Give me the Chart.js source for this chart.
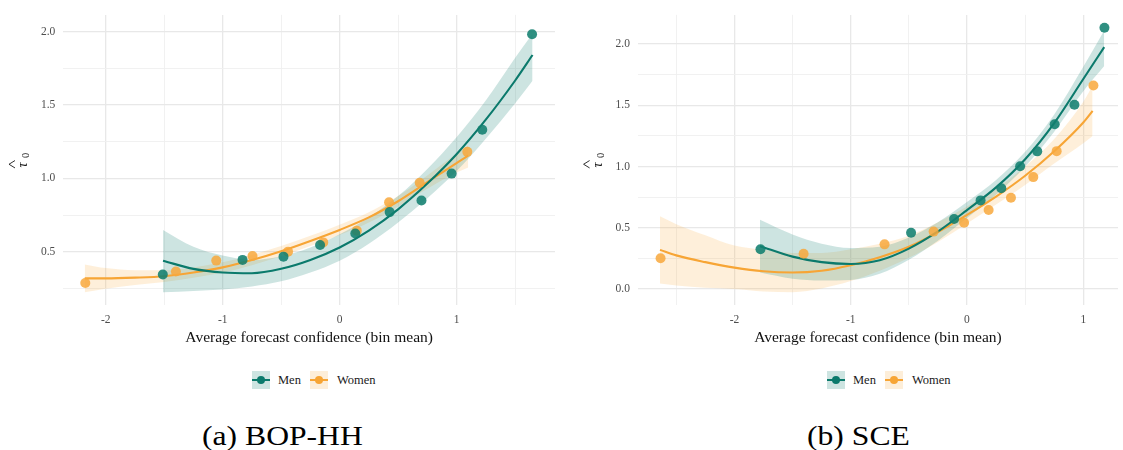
<!DOCTYPE html>
<html>
<head>
<meta charset="utf-8">
<script src="https://cdn.jsdelivr.net/npm/chart.js@4.4.1/dist/chart.umd.min.js"></script>
<style>
  html, body { margin: 0; padding: 0; background: #fff; }
  body { width: 1123px; height: 450px; position: relative; overflow: hidden;
         font-family: "Liberation Serif", "Times New Roman", serif; }
  canvas { position: absolute; top: 0; }
  .key { position: absolute; top: 371px; width: 18px; height: 18px; }
  .key .ln { position: absolute; left: 0; width: 18px; top: 8px; height: 2px; }
  .key .pt { position: absolute; left: 5px; top: 5px; width: 8px; height: 8px; border-radius: 50%; }
  .lab { position: absolute; top: 371px; line-height: 18px; font-size: 12.5px; color: #1a1a1a; }
  .caption { position: absolute; top: 422px; font-size: 28px; line-height: 28px; color: #000;
             transform: scaleX(1.13); transform-origin: left center; white-space: nowrap; }
</style>
</head>
<body>
<canvas id="bop" width="560" height="350" style="left:0;width:560px;height:350px"></canvas>
<canvas id="sce" width="563" height="350" style="left:560px;width:563px;height:350px"></canvas>

<div class="key" style="left:252px;background:#cde4e1"><div class="ln" style="background:#0b7a6c"></div><div class="pt" style="background:#0b7a6c"></div></div>
<div class="lab" style="left:278px">Men</div>
<div class="key" style="left:310px;background:#fdeed9"><div class="ln" style="background:#f7a535"></div><div class="pt" style="background:#f7a535"></div></div>
<div class="lab" style="left:337px">Women</div>

<div class="key" style="left:827px;background:#cde4e1"><div class="ln" style="background:#0b7a6c"></div><div class="pt" style="background:#0b7a6c"></div></div>
<div class="lab" style="left:853px">Men</div>
<div class="key" style="left:885px;background:#fdeed9"><div class="ln" style="background:#f7a535"></div><div class="pt" style="background:#f7a535"></div></div>
<div class="lab" style="left:912px">Women</div>

<div class="caption" style="left:202px">(a) BOP-HH</div>
<div class="caption" style="left:807px">(b) SCE</div>

<script>
// ---- BOP-HH panel ----
const bopMenX   = [-1.512, -0.83, -0.48, -0.167, 0.134, 0.428, 0.70, 0.958, 1.22, 1.646];
const bopMenY   = [0.347, 0.446, 0.468, 0.547, 0.625, 0.771, 0.85, 1.033, 1.331, 1.981];
const bopWomenX = [-2.175, -1.40, -1.055, -0.745, -0.441, -0.14, 0.147, 0.423, 0.685, 1.092];
const bopWomenY = [0.289, 0.367, 0.441, 0.473, 0.502, 0.565, 0.645, 0.838, 0.971, 1.181];

const bopMenFitX  = [-1.51, -1.25, -1.0, -0.75, -0.5, -0.25, 0, 0.25, 0.5, 0.75, 1.0, 1.25, 1.5, 1.65];
const bopMenFit   = [0.44, 0.385, 0.36, 0.355, 0.385, 0.445, 0.53, 0.645, 0.79, 0.965, 1.165, 1.40, 1.665, 1.84];
const bopMenLow   = [0.225, 0.235, 0.245, 0.265, 0.30, 0.36, 0.44, 0.555, 0.70, 0.865, 1.05, 1.27, 1.51, 1.665];
const bopMenHigh  = [0.65, 0.535, 0.475, 0.445, 0.47, 0.53, 0.62, 0.735, 0.88, 1.065, 1.28, 1.53, 1.82, 1.985];

const bopWomenFitX = [-2.18, -2.0, -1.75, -1.5, -1.25, -1.0, -0.75, -0.5, -0.25, 0, 0.25, 0.5, 0.75, 1.0, 1.1];
const bopWomenFit  = [0.32, 0.32, 0.325, 0.335, 0.36, 0.395, 0.445, 0.505, 0.575, 0.65, 0.735, 0.845, 0.975, 1.105, 1.155];
const bopWomenLow  = [0.225, 0.25, 0.275, 0.295, 0.325, 0.36, 0.41, 0.47, 0.54, 0.615, 0.70, 0.81, 0.93, 1.04, 1.075];
const bopWomenHigh = [0.415, 0.39, 0.375, 0.375, 0.395, 0.43, 0.48, 0.54, 0.61, 0.685, 0.77, 0.88, 1.02, 1.17, 1.225];

const bopTicksX = [-2, -1.5, -1, -0.5, 0, 0.5, 1, 1.5];
const bopTicksY = [0.25, 0.5, 0.75, 1.0, 1.25, 1.5, 1.75, 2.0];

// ---- SCE panel ----
const sceMenX   = [-1.776, -0.481, -0.111, 0.117, 0.295, 0.457, 0.604, 0.754, 0.924, 1.182];
const sceMenY   = [0.325, 0.46, 0.572, 0.724, 0.823, 1.003, 1.124, 1.345, 1.505, 2.133];
const sceWomenX = [-2.635, -1.405, -0.709, -0.287, -0.025, 0.186, 0.378, 0.57, 0.771, 1.087];
const sceWomenY = [0.252, 0.289, 0.365, 0.469, 0.542, 0.646, 0.745, 0.914, 1.126, 1.662];

const sceMenFitX = [-1.78, -1.5, -1.25, -1.0, -0.75, -0.5, -0.25, 0, 0.25, 0.5, 0.75, 1.0, 1.18];
const sceMenFit  = [0.35, 0.265, 0.22, 0.205, 0.235, 0.33, 0.47, 0.645, 0.83, 1.06, 1.355, 1.715, 1.975];
const sceMenLow  = [0.135, 0.085, 0.07, 0.075, 0.125, 0.24, 0.395, 0.58, 0.77, 1.0, 1.285, 1.615, 1.82];
const sceMenHigh = [0.565, 0.445, 0.37, 0.335, 0.345, 0.42, 0.545, 0.71, 0.89, 1.12, 1.425, 1.815, 2.11];

const sceWomenFitX = [-2.64, -2.5, -2.25, -2.0, -1.75, -1.5, -1.25, -1.0, -0.75, -0.5, -0.25, 0, 0.25, 0.5, 0.75, 1.0, 1.08];
const sceWomenFit  = [0.32, 0.275, 0.22, 0.175, 0.145, 0.135, 0.15, 0.195, 0.26, 0.345, 0.465, 0.605, 0.755, 0.925, 1.125, 1.36, 1.455];
const sceWomenLow  = [0.045, 0.03, 0.01, 0.0, -0.02, -0.025, 0.005, 0.065, 0.15, 0.255, 0.385, 0.535, 0.69, 0.85, 1.025, 1.19, 1.25];
const sceWomenHigh = [0.595, 0.53, 0.44, 0.355, 0.32, 0.295, 0.295, 0.325, 0.37, 0.435, 0.545, 0.675, 0.82, 1.0, 1.225, 1.53, 1.66];

const sceTicksX = [-2.5, -2, -1.5, -1, -0.5, 0, 0.5, 1];
const sceTicksY = [0, 0.25, 0.5, 0.75, 1.0, 1.25, 1.5, 1.75, 2.0];

// ---- styling ----
const MEN_LINE = '#0b7a6c', MEN_PT = 'rgba(18,128,112,0.88)', MEN_BAND = 'rgba(20,128,112,0.21)';
const WOM_LINE = '#f7a535', WOM_PT = 'rgba(248,168,60,0.85)', WOM_BAND = 'rgba(250,170,60,0.19)';
const SERIF = '"Liberation Serif", "Times New Roman", serif';

const pts = (xs, ys) => xs.map((x, i) => ({ x: x, y: ys[i] }));

function seriesSets(fx, fit, lo, hi, px, py, line, pt, band) {
  return [
    { data: pts(fx, hi), fill: '+1', backgroundColor: band, borderWidth: 0, pointRadius: 0,
      cubicInterpolationMode: 'monotone', order: 3 },
    { data: pts(fx, lo), fill: false, borderWidth: 0, pointRadius: 0,
      cubicInterpolationMode: 'monotone', order: 3 },
    { data: pts(fx, fit), fill: false, borderColor: line, borderWidth: 2.1, pointRadius: 0,
      cubicInterpolationMode: 'monotone', order: 2 },
    { data: pts(px, py), showLine: false, pointRadius: 5, pointHoverRadius: 5,
      pointBackgroundColor: pt, pointBorderWidth: 0, order: 1 }
  ];
}

// rotated y-axis label: tau with a hat and subscript 0
const tauTitle = {
  id: 'tauTitle',
  afterDraw(chart) {
    const ctx = chart.ctx, a = chart.chartArea;
    const cx = a.left - 40, cy = (a.top + a.bottom) / 2 + 5;
    ctx.save();
    ctx.translate(cx, cy);
    ctx.rotate(-Math.PI / 2);
    ctx.fillStyle = '#1a1a1a';
    ctx.textAlign = 'center';
    ctx.textBaseline = 'middle';
    ctx.font = 'italic 14px ' + SERIF;
    ctx.fillText('\u03C4', 0, 0);
    ctx.font = '10.5px ' + SERIF;
    ctx.fillText('0', 9.5, 3.4);
    ctx.strokeStyle = '#1a1a1a';
    ctx.lineWidth = 0.9;
    ctx.beginPath();
    ctx.moveTo(-3, -8.3);
    ctx.lineTo(0.7, -14.3);
    ctx.lineTo(4.4, -8.3);
    ctx.stroke();
    ctx.restore();
  }
};

function gridColor(labelled) {
  return ctx => (ctx.tick && labelled(ctx.tick.value)) ? '#e8e8e8' : '#efefef';
}
function gridWidth(labelled) {
  return ctx => (ctx.tick && labelled(ctx.tick.value)) ? 1.3 : 0.9;
}
const isInt = v => Math.abs(v - Math.round(v)) < 1e-9;
const isHalf = v => Math.abs(v * 2 - Math.round(v * 2)) < 1e-9;

function makeChart(id, cfg) {
  return new Chart(document.getElementById(id), {
    type: 'line',
    data: { datasets: cfg.datasets },
    options: {
      responsive: false,
      animation: false,
      events: [],
      layout: { padding: { top: 10, right: cfg.padRight, bottom: 0, left: 0 } },
      plugins: { legend: { display: false }, tooltip: { enabled: false } },
      scales: {
        x: {
          type: 'linear', min: cfg.xMin, max: cfg.xMax,
          afterBuildTicks: s => { s.ticks = cfg.ticksX.map(v => ({ value: v })); },
          afterFit: s => { s.height = 45; },
          border: { display: false },
          grid: { drawTicks: false, color: gridColor(isInt), lineWidth: gridWidth(isInt) },
          ticks: { padding: 8, autoSkip: false, maxRotation: 0, color: '#4d4d4d',
                   font: { family: SERIF, size: 11.5 },
                   callback: v => isInt(v) ? String(v) : '' },
          title: { display: true, text: 'Average forecast confidence (bin mean)', color: '#111',
                   font: { family: SERIF, size: 15.5 }, padding: { top: 0, bottom: 3 } }
        },
        y: {
          type: 'linear', min: cfg.yMin, max: cfg.yMax,
          afterBuildTicks: s => { s.ticks = cfg.ticksY.map(v => ({ value: v })); },
          afterFit: s => { s.width = cfg.yWidth; },
          border: { display: false },
          grid: { drawTicks: false, color: gridColor(v => isHalf(v)), lineWidth: gridWidth(v => isHalf(v)) },
          ticks: { padding: 8, autoSkip: false, color: '#4d4d4d',
                   font: { family: SERIF, size: 11.5 },
                   callback: v => isHalf(v) ? v.toFixed(1) : '' }
        }
      }
    },
    plugins: [tauTitle]
  });
}

makeChart('bop', {
  xMin: -2.363, xMax: 1.842, yMin: 0.139, yMax: 2.113,
  ticksX: bopTicksX, ticksY: bopTicksY, yWidth: 63.3, padRight: 3,
  datasets: [].concat(
    seriesSets(bopMenFitX, bopMenFit, bopMenLow, bopMenHigh, bopMenX, bopMenY, MEN_LINE, MEN_PT, MEN_BAND),
    seriesSets(bopWomenFitX, bopWomenFit, bopWomenLow, bopWomenHigh, bopWomenX, bopWomenY, WOM_LINE, WOM_PT, WOM_BAND)
  )
});

makeChart('sce', {
  xMin: -2.83, xMax: 1.2985, yMin: -0.13, yMax: 2.238,
  ticksX: sceTicksX, ticksY: sceTicksY, yWidth: 77.9, padRight: 0,
  datasets: [].concat(
    seriesSets(sceMenFitX, sceMenFit, sceMenLow, sceMenHigh, sceMenX, sceMenY, MEN_LINE, MEN_PT, MEN_BAND),
    seriesSets(sceWomenFitX, sceWomenFit, sceWomenLow, sceWomenHigh, sceWomenX, sceWomenY, WOM_LINE, WOM_PT, WOM_BAND)
  )
});
</script>
</body>
</html>
